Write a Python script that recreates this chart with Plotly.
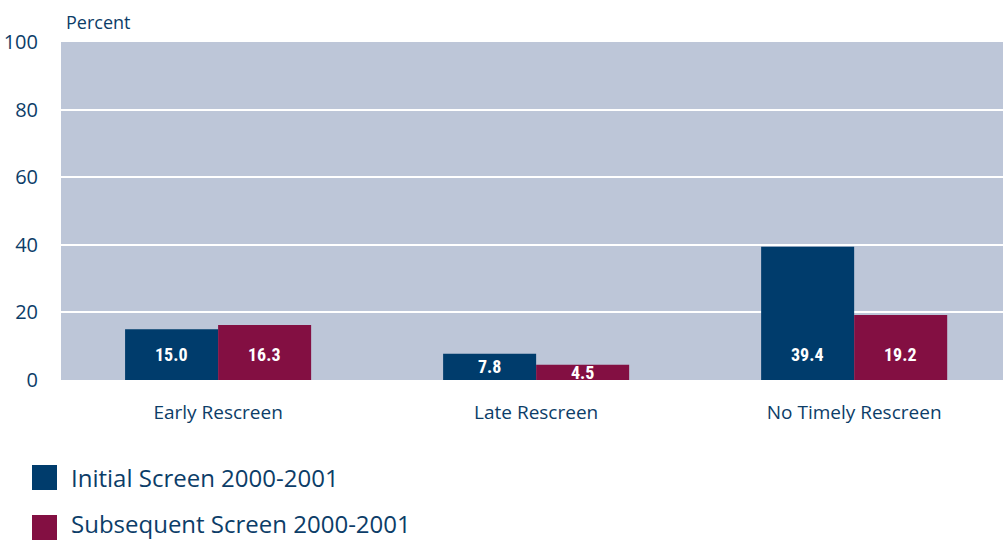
import plotly.graph_objects as go

categories = ["Early Rescreen", "Late Rescreen", "No Timely Rescreen"]
initial_screen = [15.0, 7.8, 39.4]
subsequent_screen = [16.3, 4.5, 19.2]
series_names = ["Initial Screen 2000-2001", "Subsequent Screen 2000-2001"]
y_ticks = [0, 20, 40, 60, 80, 100]

NAVY = "#003c6c"
PLUM = "#830f42"
TEXT = "#0c3d68"
PANEL = "#bdc6d8"
FONT = "Open Sans"

W, H = 1003, 540
ML, MR, MT, MB = 61, 0, 42, 160
PW, PH = W - ML - MR, H - MT - MB


def px_x(x):
    return (x - ML) / PW


def px_y(y):
    return (H - MB - y) / PH


fig = go.Figure()
for name, vals, color in zip(series_names, [initial_screen, subsequent_screen], [NAVY, PLUM]):
    fig.add_trace(go.Bar(
        x=categories, y=vals, name=name, marker=dict(color=color, line=dict(width=0)),
        showlegend=False, hoverinfo="x+y",
    ))

# value labels placed low inside each bar
annotations = []
for i, cat in enumerate(categories):
    for j, vals in enumerate([initial_screen, subsequent_screen]):
        v = vals[i]
        annotations.append(dict(
            x=i + (-0.146 if j == 0 else 0.146), xref="x", y=min(v / 2, 7.4), yref="y",
            text=f"<b>{v:.1f}</b>", showarrow=False,
            font=dict(family="Liberation Sans Narrow, Roboto Condensed, Roboto", size=18, color="white"),
        ))

annotations.append(dict(
    x=px_x(64), y=px_y(22), xref="paper", yref="paper", xanchor="left", yanchor="middle",
    text="Percent", showarrow=False, font=dict(family=FONT, size=18, color=TEXT),
))

# legend built from squares and labels
shapes = []
for k, (name, color) in enumerate(zip(series_names, [NAVY, PLUM])):
    top = 465 + k * 50
    shapes.append(dict(
        type="rect", xref="paper", yref="paper",
        x0=px_x(32), x1=px_x(57), y0=px_y(top), y1=px_y(top + 25),
        fillcolor=color, line=dict(width=0),
    ))
    annotations.append(dict(
        x=px_x(69), y=px_y(top + 12 - k * 4), xref="paper", yref="paper",
        xanchor="left", yanchor="middle", text=name, showarrow=False,
        font=dict(family=FONT, size=24, color=TEXT),
    ))

fig.update_layout(
    width=W, height=H,
    margin=dict(l=ML, r=MR, t=MT, b=MB, pad=0),
    paper_bgcolor="white", plot_bgcolor=PANEL,
    barmode="group", bargap=0.415, bargroupgap=0,
    font=dict(family=FONT, color=TEXT),
    annotations=annotations, shapes=shapes,
    showlegend=False,
)
fig.update_xaxes(
    range=[-0.494, 2.468],
    showgrid=False, zeroline=False, showline=False,
    ticks="outside", ticklen=15, tickcolor="rgba(0,0,0,0)",
    tickfont=dict(family=FONT, size=19, color=TEXT),
)
fig.update_yaxes(
    range=[0, 100], tickvals=y_ticks, showgrid=True, gridcolor="white", gridwidth=2,
    zeroline=False, showline=False,
    ticks="outside", ticklen=18, tickcolor="rgba(0,0,0,0)",
    tickfont=dict(family=FONT, size=20, color=TEXT),
)

fig.write_html("out.html")
